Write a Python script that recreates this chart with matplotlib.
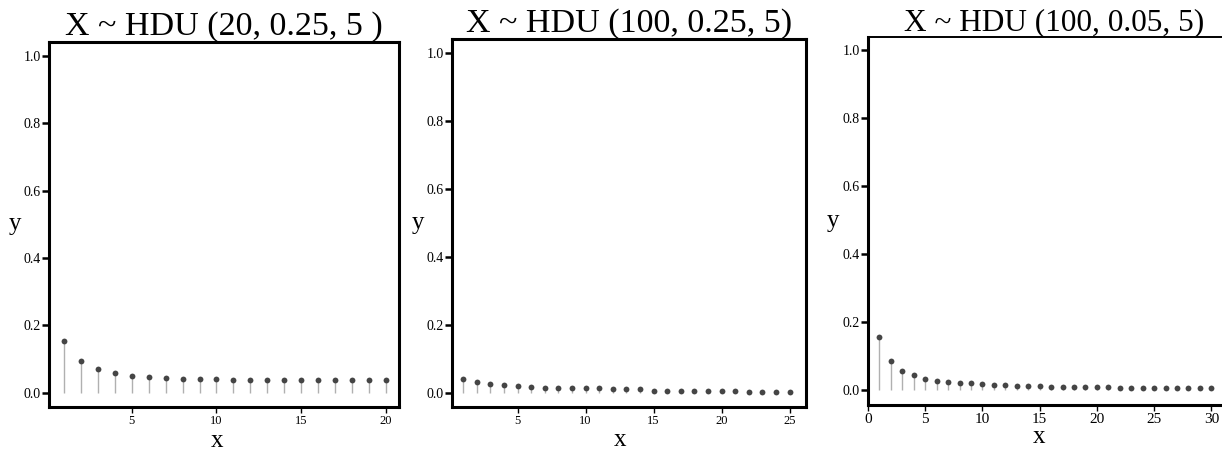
import matplotlib
matplotlib.use("Agg")
from matplotlib import pyplot as plt

plt.rcParams['font.family'] = ['Liberation Serif', 'DejaVu Serif']

# panel 1: X ~ HDU (20, 0.25, 5)
x1 = list(range(1, 21))
y1 = [0.153, 0.096, 0.072, 0.059, 0.051, 0.046, 0.043, 0.041, 0.040, 0.040,
      0.038, 0.038, 0.038, 0.038, 0.038, 0.038, 0.038, 0.038, 0.038, 0.038]

# panel 2: X ~ HDU (100, 0.25, 5)
x2 = list(range(1, 26))
y2 = [0.041, 0.033, 0.027, 0.025, 0.022, 0.020, 0.017, 0.017, 0.015, 0.015,
      0.015, 0.012, 0.012, 0.012, 0.008, 0.008, 0.008, 0.008, 0.008, 0.008,
      0.008, 0.005, 0.005, 0.005, 0.005]

# panel 3: X ~ HDU (100, 0.05, 5)
x3 = list(range(1, 31))
y3 = [0.155, 0.085, 0.057, 0.043, 0.032, 0.027, 0.025, 0.020, 0.020, 0.017,
      0.015, 0.015, 0.012, 0.012, 0.012, 0.010, 0.010, 0.010, 0.010, 0.010,
      0.010, 0.007, 0.007, 0.007, 0.007, 0.007, 0.007, 0.007, 0.007, 0.007]

titles = ["X ~ HDU (20, 0.25, 5 )", "X ~ HDU (100, 0.25, 5)", "X ~ HDU (100, 0.05, 5)"]
xticks = [[5, 10, 15, 20], [5, 10, 15, 20, 25], [0, 5, 10, 15, 20, 25, 30]]
yticks = [0.0, 0.2, 0.4, 0.6, 0.8, 1.0]

fig = plt.figure(figsize=(12.22, 4.5), dpi=100)

positions = [
    [0.0401, 0.0956, 0.2864, 0.8111],
    [0.3699, 0.0956, 0.2897, 0.8178],
    [0.7103, 0.1000, 0.3044, 0.8180],
]
xlims = [(0.12, 20.77), (0.18, 26.2), (0.0, 32.5)]
ylims = [(-0.042, 1.042), (-0.040, 1.042), (-0.044, 1.039)]
xtick_size = [9, 9, 11]
title_size = [24.5, 24.5, 22.5]
title_pad = [5, 4, 3]
xlabel_y = [-0.093, -0.090, -0.088]
xlabel_x = [0.48, 0.475, 0.46]
ylabel_x = [-0.097, -0.096, -0.094]

data = [(x1, y1), (x2, y2), (x3, y3)]

for i, (xs, ys) in enumerate(data):
    ax = fig.add_axes(positions[i])
    ax.vlines(xs, 0, ys, colors='#b0b0b0', linewidth=1.0, zorder=1)
    ax.plot(xs, ys, 'o', color='#454545', markersize=4.2, markeredgewidth=0, zorder=2)

    ax.set_xlim(*xlims[i])
    ax.set_ylim(*ylims[i])
    ax.set_xticks(xticks[i])
    ax.set_yticks(yticks)
    ax.set_yticklabels(["%.1f" % t for t in yticks])

    for name, sp in ax.spines.items():
        sp.set_linewidth(2.2)
    if i == 2:
        ax.spines['top'].set_linewidth(1.4)
        ax.spines['right'].set_visible(False)

    ax.tick_params(axis='y', direction='out', length=5, width=1.8, labelsize=10, pad=1)
    ax.tick_params(axis='x', direction='out', length=4, width=1.0,
                   labelsize=xtick_size[i], pad=2)

    ax.set_title(titles[i], fontsize=title_size[i], pad=title_pad[i])
    ax.set_xlabel("x", fontsize=18)
    ax.set_ylabel("y", fontsize=18, rotation=0)
    ax.xaxis.set_label_coords(xlabel_x[i], xlabel_y[i])
    ax.yaxis.set_label_coords(ylabel_x[i], 0.5)
    ax.yaxis.label.set_verticalalignment('center')
    ax.xaxis.label.set_verticalalignment('center')

fig.savefig("out.png", dpi=100)
